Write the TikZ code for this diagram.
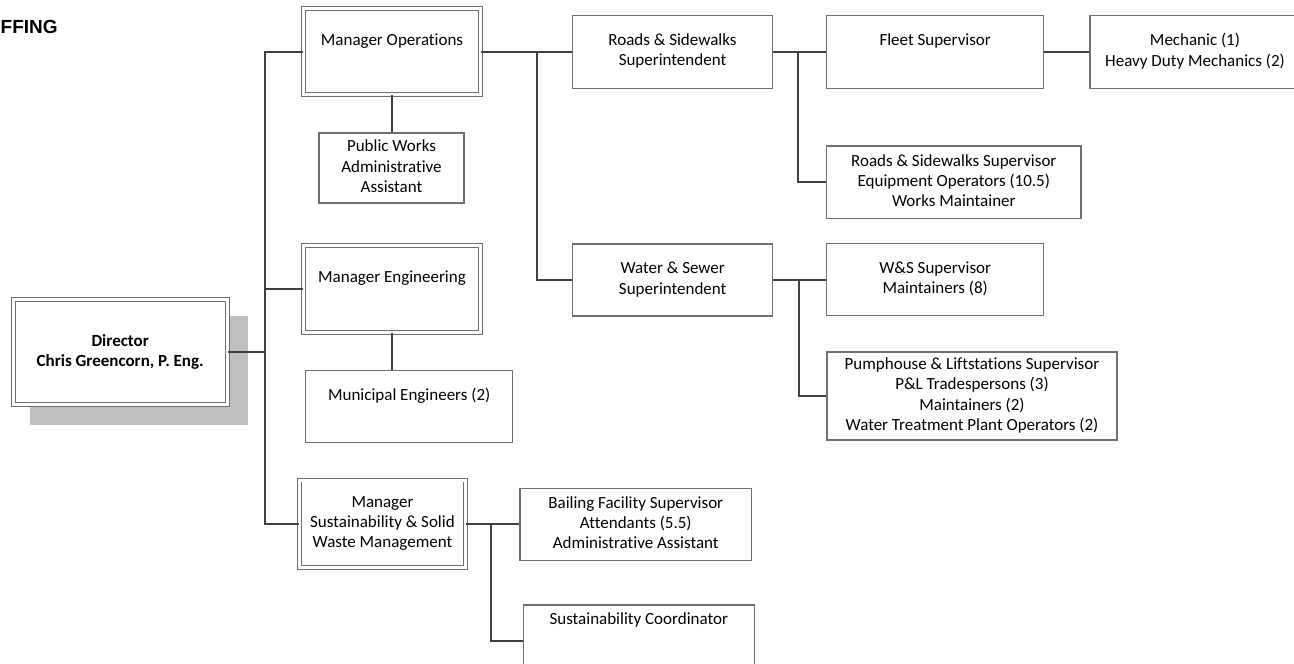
\documentclass[tikz,border=0pt]{standalone}
\usepackage{fontspec}
\setmainfont{Carlito}[Ligatures=NoCommon]
\newfontfamily\titlefont{Liberation Sans}
\definecolor{linegray}{HTML}{404040}
\definecolor{boxgray}{HTML}{707070}
\definecolor{shadowgray}{HTML}{BFBFBF}
\begin{document}
\begin{tikzpicture}[x=1pt,y=-1pt,
  orgbox/.style={rectangle, draw=boxgray, line width=1.1pt, fill=white, align=center,
    inner sep=0pt, font=\fontsize{17}{20.2}\selectfont},
  mgrbox/.style={orgbox, double=white, double distance=3pt, line width=0.9pt},
  conn/.style={draw=linegray, line width=2pt}]
\useasboundingbox (0,0) rectangle (1294,664);
% title
\node[font=\titlefont\bfseries\fontsize{19}{23}\selectfont, anchor=base west, inner sep=0pt] (title) at (0.5,33) {FFING};
% shadow of director
\fill[shadowgray] (30,315.7) rectangle (248,424.7);
% director
\node[mgrbox, minimum width=214pt, minimum height=105pt, font=\fontsize{17}{20.2}\selectfont\bfseries] (dir) at (120.2,352.2) {\strut Director\\\strut Chris Greencorn, P. Eng.};
% managers
\node[mgrbox, minimum width=177.7pt, minimum height=86.7pt] (mo) at (392,51.5) {\strut Manager Operations\\\strut};
\node[mgrbox, minimum width=177.7pt, minimum height=87pt] (me) at (392,288.8) {\strut Manager Engineering\\\strut};
\node[mgrbox, minimum width=165.6pt, minimum height=87.3pt] (ms) at (382.5,523.7) {\strut Manager\\\strut Sustainability \& Solid\\\strut Waste Management};
% staff boxes
\node[orgbox, minimum width=145pt, minimum height=70pt] (pw) at (391.5,168) {\strut Public Works\\\strut Administrative\\\strut Assistant};
\node[orgbox, minimum width=207pt, minimum height=72.3pt] (mun) at (409.2,406.2) {\strut Municipal Engineers (2)\\\strut};
\node[orgbox, minimum width=199.6pt, minimum height=72.7pt] (rs) at (672.5,51.7) {\strut Roads \& Sidewalks\\\strut Superintendent};
\node[orgbox, minimum width=200pt, minimum height=72pt] (ws) at (672.7,280) {\strut Water \& Sewer\\\strut Superintendent};
\node[orgbox, minimum width=217pt, minimum height=72.6pt] (fleet) at (935.2,52) {\strut Fleet Supervisor\\\strut};
\node[orgbox, minimum width=210pt, minimum height=72.6pt] (mech) at (1195,52) {\strut Mechanic (1)\\\strut Heavy Duty Mechanics (2)};
\node[orgbox, minimum width=254.3pt, minimum height=72.7pt] (rss) at (953.8,182.3) {\strut Roads \& Sidewalks Supervisor\\\strut Equipment Operators (10.5)\\\strut Works Maintainer};
\node[orgbox, minimum width=217pt, minimum height=72.4pt] (wss) at (935.2,279.5) {\strut W\&S Supervisor\\\strut Maintainers (8)};
\node[orgbox, minimum width=290pt, minimum height=88pt] (ph) at (972,396) {\strut Pumphouse \& Liftstations Supervisor\\\strut P\&L Tradespersons (3)\\\strut Maintainers (2)\\\strut Water Treatment Plant Operators (2)};
\node[orgbox, minimum width=231.7pt, minimum height=71.7pt] (bf) at (635.8,524.2) {\strut Bailing Facility Supervisor\\\strut Attendants (5.5)\\\strut Administrative Assistant};
\node[orgbox, minimum width=231pt, minimum height=72pt] (sc) at (638.8,641) {\strut Sustainability Coordinator\\\strut\\\strut};
% junction coordinates
\coordinate (trunk) at (265,0);
\coordinate (j1) at (537.3,0);
\coordinate (j2) at (798.3,0);
\coordinate (j3) at (799.3,0);
\coordinate (j4) at (490.7,0);
% connectors
\draw[conn] (mo.west) -- (mo.west -| trunk) -- (ms.west -| trunk) -- (ms.west);
\draw[conn] (me.west) -- (me.west -| trunk);
\draw[conn] (dir.east) -- (dir.east -| trunk);
\draw[conn] (mo.south) -- (pw.north -| mo.south);
\draw[conn] (me.south) -- (mun.north -| me.south);
\draw[conn] (mo.east) -- (rs.west |- mo.east);
\draw[conn] (mo.east -| j1) -- (ws.west -| j1) -- (ws.west);
\draw[conn] (rs.east) -- (fleet.west |- rs.east);
\draw[conn] (rs.east -| j2) -- (rss.west -| j2) -- (rss.west);
\draw[conn] (fleet.east) -- (mech.west |- fleet.east);
\draw[conn] (ws.east) -- (wss.west |- ws.east);
\draw[conn] (ws.east -| j3) -- (ph.west -| j3) -- (ph.west);
\draw[conn] (ms.east) -- (bf.west |- ms.east);
\draw[conn] (ms.east -| j4) -- (sc.west -| j4) -- (sc.west);
\end{tikzpicture}
\end{document}
